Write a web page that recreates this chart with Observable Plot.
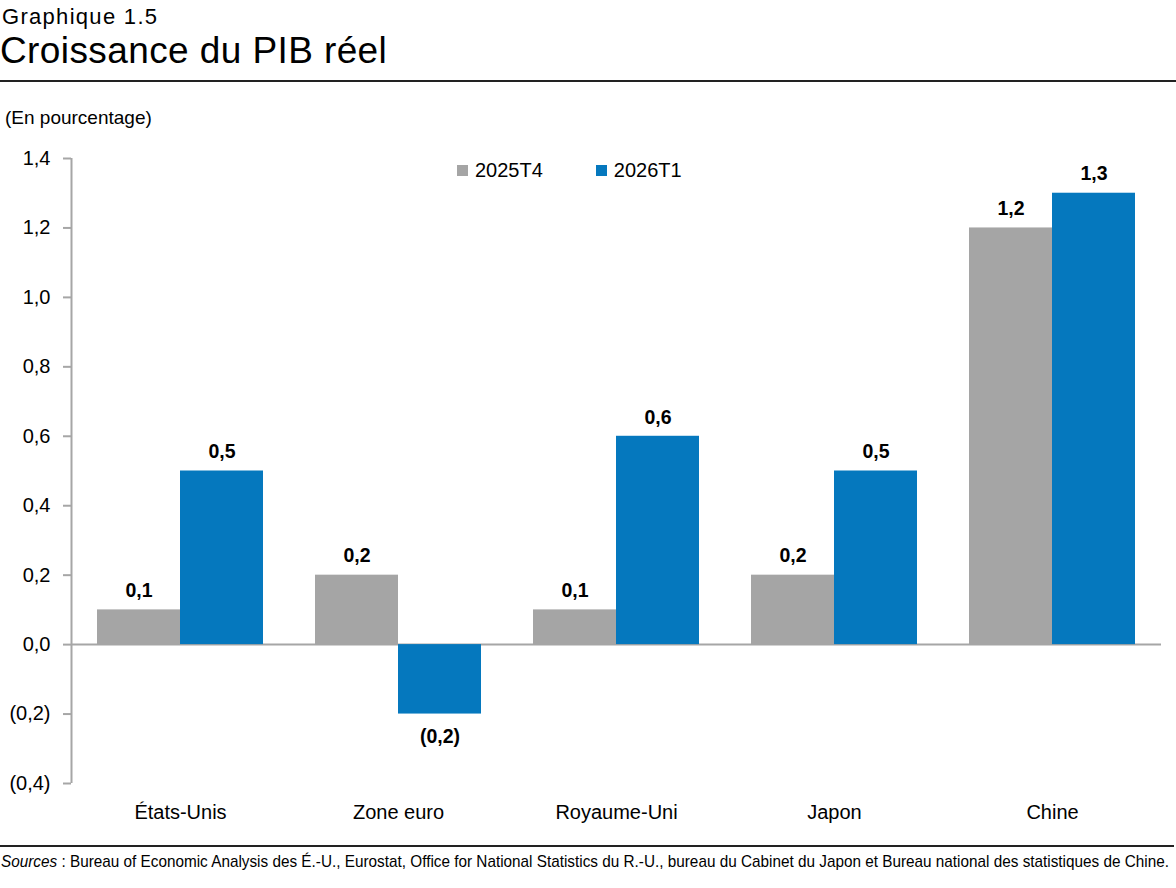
<!DOCTYPE html>
<html lang="fr">
<head>
<meta charset="utf-8">
<script src="https://cdn.jsdelivr.net/npm/d3@7"></script>
<script src="https://cdn.jsdelivr.net/npm/@observablehq/plot@0.6"></script>
<style>
  html, body { margin: 0; padding: 0; background: #fff; }
  #wrap { position: relative; width: 1176px; height: 888px; overflow: hidden; font-family: "Liberation Sans", Arial, sans-serif; color: #000; }
  .abs { position: absolute; }
  #kicker { left: 2px; top: 6px; font-family: "Liberation Sans", Arial, sans-serif; font-size: 22px; letter-spacing: 1.3px; line-height: 22px; white-space: nowrap; }
  #title { left: 0px; top: 32px; font-family: "Liberation Sans", Arial, sans-serif; font-size: 37px; letter-spacing: 0.4px; line-height: 37px; white-space: nowrap; }
  #rule1 { left: 0; top: 80px; width: 1176px; height: 1.5px; background: #222; }
  #unit { left: 5px; top: 108px; font-size: 19px; line-height: 1; }
  #legend { left: 457px; top: 160px; font-size: 20px; line-height: 1; display: flex; }
  .lg { display: flex; align-items: center; margin-right: 53px; }
  .sw { width: 11px; height: 11px; margin-right: 7px; }
  #rule2 { left: 0; top: 845px; width: 1174px; height: 1.5px; background: #222; }
  #source { left: 1px; top: 853px; font-family: "Liberation Sans Narrow", "Arial Narrow", "Liberation Sans", sans-serif; font-size: 17px; line-height: 1; white-space: nowrap; transform-origin: 0 0; }
  #axes, #bars { left: 0; top: 130px; }
</style>
</head>
<body>
<div id="wrap">
  <div id="kicker" class="abs">Graphique 1.5</div>
  <div id="title" class="abs">Croissance du PIB réel</div>
  <div id="rule1" class="abs"></div>
  <div id="unit" class="abs">(En pourcentage)</div>
  <div id="axes" class="abs"></div>
  <div id="bars" class="abs"></div>
  <div id="legend" class="abs"></div>
  <div id="rule2" class="abs"></div>
  <div id="source" class="abs"><i>Sources</i> : Bureau of Economic Analysis des É.-U., Eurostat, Office for National Statistics du R.-U., bureau du Cabinet du Japon et Bureau national des statistiques de Chine.</div>
</div>
<script>
// ---- data ----
const countries = ["États-Unis", "Zone euro", "Royaume-Uni", "Japon", "Chine"];
const series = ["2025T4", "2026T1"];
const values2025T4 = [0.1, 0.2, 0.1, 0.2, 1.2];
const values2026T1 = [0.5, -0.2, 0.6, 0.5, 1.3];
const yTicks = [-0.4, -0.2, 0.0, 0.2, 0.4, 0.6, 0.8, 1.0, 1.2, 1.4];
const colors = ["#A5A5A5", "#0578BE"];

const data = countries.flatMap((c, i) => [
  {country: c, series: series[0], value: values2025T4[i]},
  {country: c, series: series[1], value: values2026T1[i]}
]);

const f1 = d3.format(".1f");
const fmt = v => (v < 0 ? "(" + f1(-v) + ")" : f1(Math.abs(v))).replace(".", ",");

const W = 1176, H = 700;
const M = {marginLeft: 71, marginRight: 15, marginTop: 28, marginBottom: 47};
const axisGrey = "#A6A6A6";

// axes layer: y axis, axis line, zero line
const axes = Plot.plot({
  width: W, height: H, ...M,
  style: {background: "transparent", fontFamily: "'Liberation Sans', Arial, sans-serif", fontSize: "20px", color: "#000"},
  x: {domain: [0, 1], axis: null},
  y: {domain: [-0.4, 1.4], axis: null},
  marks: [
    Plot.axisY({ticks: yTicks, tickFormat: fmt, tickSize: 8, tickPadding: 13, stroke: axisGrey, strokeWidth: 2, label: null, fontSize: 20, fill: "#000"}),
    Plot.ruleX([0], {stroke: axisGrey, strokeWidth: 2}),
    Plot.ruleY([0], {stroke: axisGrey, strokeWidth: 2})
  ]
});
document.getElementById("axes").appendChild(axes);

// bars layer
const bars = Plot.plot({
  width: W, height: H, ...M,
  style: {background: "transparent", fontFamily: "'Liberation Sans', Arial, sans-serif", fontSize: "20px", color: "#000"},
  fx: {domain: countries, paddingInner: 0.24, paddingOuter: 0.12, label: null},
  x: {domain: series, padding: 0, axis: null},
  y: {domain: [-0.4, 1.4], axis: null},
  color: {domain: series, range: colors},
  marks: [
    Plot.barY(data, {fx: "country", x: "series", y: "value", fill: "series"}),
    Plot.text(data.filter(d => d.value >= 0), {fx: "country", x: "series", y: "value", text: d => fmt(d.value), dy: -19, fontWeight: "bold", fontSize: 19.5, fill: "#000"}),
    Plot.text(data.filter(d => d.value < 0), {fx: "country", x: "series", y: "value", text: d => fmt(d.value), dy: 23, fontWeight: "bold", fontSize: 19.5, fill: "#000"}),
    Plot.axisFx({anchor: "bottom", tickSize: 0, tickPadding: 21, label: null, fontSize: 20, fill: "#000"})
  ]
});
document.getElementById("bars").appendChild(bars);

// legend
const legend = document.getElementById("legend");
series.forEach((s, i) => {
  const item = document.createElement("div");
  item.className = "lg";
  const sw = document.createElement("span");
  sw.className = "sw";
  sw.style.background = colors[i];
  const t = document.createElement("span");
  t.textContent = s;
  item.appendChild(sw); item.appendChild(t);
  legend.appendChild(item);
});

// fit the source line to the page width (condensed, as in the original)
const src = document.getElementById("source");
const sw0 = src.getBoundingClientRect().width;
if (sw0 > 1168) src.style.transform = `scaleX(${1168 / sw0})`;
</script>
</body>
</html>
